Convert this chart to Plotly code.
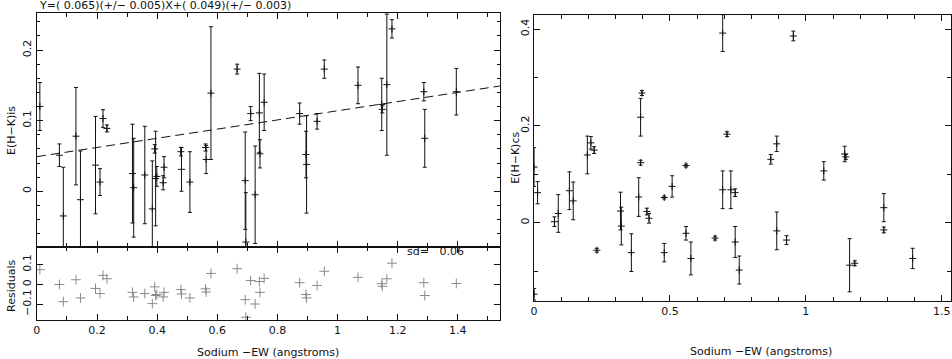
import plotly.graph_objects as go

# ---- left panel: E(H-K)is vs sodium EW, with fit residuals ----
na_ew_is = [0.010, 0.075, 0.088, 0.130, 0.145, 0.195, 0.210, 0.220, 0.233, 0.318,
            0.322, 0.359, 0.384, 0.392, 0.395, 0.399, 0.420, 0.423, 0.479, 0.481,
            0.509, 0.561, 0.563, 0.579, 0.666, 0.693, 0.695, 0.711, 0.726, 0.740,
            0.742, 0.756, 0.874, 0.895, 0.897, 0.932, 0.956, 1.068, 1.147, 1.149,
            1.164, 1.181, 1.287, 1.290, 1.395]
ehk_is = [0.120, 0.051, -0.035, 0.078, -0.012, 0.037, 0.013, 0.103, 0.089, 0.025,
          0.005, 0.023, -0.025, 0.060, 0.018, 0.021, 0.012, 0.034, 0.056, 0.031,
          0.013, 0.062, 0.045, 0.139, 0.173, 0.015, -0.072, 0.110, -0.005, 0.111,
          0.053, 0.126, 0.110, 0.052, 0.038, 0.099, 0.173, 0.150, 0.123, 0.116,
          0.151, 0.230, 0.141, 0.075, 0.141]
ehk_is_err = [0.034, 0.016, 0.069, 0.069, 0.069, 0.069, 0.019, 0.0125, 0.005, 0.070,
              0.070, 0.069, 0.068, 0.006, 0.067, 0.014, 0.010, 0.015, 0.006, 0.031,
              0.043, 0.005, 0.020, 0.094, 0.007, 0.069, 0.070, 0.010, 0.069, 0.056,
              0.020, 0.040, 0.015, 0.033, 0.069, 0.011, 0.013, 0.026, 0.037, 0.005,
              0.100, 0.013, 0.013, 0.041, 0.033]
residuals = [0.075, 0.000, -0.087, 0.024, -0.068, -0.020, -0.046, 0.046, 0.029, -0.040,
             -0.063, -0.046, -0.097, -0.012, -0.056, -0.051, -0.063, -0.040, -0.026, -0.048,
             -0.068, -0.022, -0.038, 0.056, 0.080, -0.077, -0.166, 0.020, -0.099, 0.015,
             -0.040, 0.031, 0.009, -0.051, -0.068, -0.005, 0.067, 0.036, 0.004, -0.009,
             0.029, 0.108, 0.009, -0.056, 0.005]
fit_slope = 0.065
fit_icept = 0.049
fit_x = [0, 1.54]

# ---- right panel: E(H-K)cs vs sodium EW ----
na_ew_cs = [0.000, 0.000, 0.013, 0.075, 0.089, 0.130, 0.144, 0.196, 0.209, 0.221,
            0.231, 0.318, 0.321, 0.358, 0.385, 0.392, 0.397, 0.392, 0.415, 0.423,
            0.479, 0.479, 0.508, 0.559, 0.559, 0.577, 0.666, 0.694, 0.694, 0.710,
            0.724, 0.740, 0.740, 0.755, 0.871, 0.893, 0.893, 0.929, 0.954, 1.066,
            1.143, 1.147, 1.161, 1.180, 1.287, 1.287, 1.393]
ehk_cs = [0.115, -0.148, 0.062, 0.002, 0.019, 0.066, 0.045, 0.140, 0.165, 0.150,
          -0.057, 0.024, -0.007, -0.062, 0.053, 0.218, 0.268, 0.124, 0.023, 0.009,
          0.052, -0.062, 0.075, 0.118, -0.022, -0.074, -0.032, 0.392, 0.068, 0.183,
          0.068, 0.062, -0.040, -0.098, 0.131, 0.163, -0.017, -0.036, 0.386, 0.107,
          0.142, 0.136, -0.088, -0.084, 0.031, -0.015, -0.074]
ehk_cs_err = [0.040, 0.012, 0.023, 0.010, 0.039, 0.039, 0.039, 0.039, 0.013, 0.007,
              0.004, 0.039, 0.039, 0.039, 0.040, 0.039, 0.005, 0.005, 0.007, 0.010,
              0.003, 0.019, 0.022, 0.003, 0.014, 0.034, 0.004, 0.038, 0.039, 0.005,
              0.039, 0.008, 0.032, 0.029, 0.010, 0.016, 0.039, 0.009, 0.010, 0.019,
              0.016, 0.005, 0.055, 0.005, 0.029, 0.006, 0.021]

INK = "#111111"
FONT = dict(family="DejaVu Sans", size=11, color=INK)
W, H = 952, 359

def px(x):
    return x / W

def py(y):
    return 1 - y / H

err_style = dict(type="data", color=INK, thickness=1, width=2)
pt_style = dict(symbol="cross-thin", size=5, line=dict(width=1, color=INK), color=INK)

fig = go.Figure()

fig.add_trace(go.Scatter(x=na_ew_is, y=ehk_is, mode="markers", marker=pt_style,
                         error_y=dict(array=ehk_is_err, **err_style), xaxis="x", yaxis="y"))
fig.add_trace(go.Scatter(x=fit_x, y=[fit_icept + fit_slope * v for v in fit_x], mode="lines",
                         line=dict(color=INK, width=1, dash="9px,5px"), xaxis="x", yaxis="y"))
fig.add_trace(go.Scatter(x=na_ew_is, y=residuals, mode="markers",
                         marker=dict(symbol="cross-thin", size=7, line=dict(width=1, color="#8a8a8a")),
                         xaxis="x2", yaxis="y2"))
fig.add_trace(go.Scatter(x=na_ew_cs, y=ehk_cs, mode="markers", marker=pt_style,
                         error_y=dict(array=ehk_cs_err, **err_style), xaxis="x3", yaxis="y3"))

ax = dict(showline=True, linecolor=INK, linewidth=1, mirror="allticks", ticks="inside",
          tickcolor=INK, tickwidth=1, showgrid=False, zeroline=False, tickfont=FONT)

left_dom = [px(33), px(498)]
fig.update_layout(
    width=W, height=H, autosize=False, showlegend=False,
    margin=dict(l=0, r=0, t=0, b=0),
    paper_bgcolor="white", plot_bgcolor="white", font=FONT,
    xaxis=dict(ax, domain=left_dom, anchor="y", range=[0, 1.54], dtick=0.2, ticklen=6,
               showticklabels=False, minor=dict(dtick=0.1, ticklen=4, ticks="inside", tickcolor=INK)),
    yaxis=dict(ax, domain=[py(247), py(13)], anchor="x", range=[-0.079, 0.2525], dtick=0.1,
               ticklen=6, tickangle=-90, tickvals=[0, 0.1, 0.2], ticktext=["0", "0.1", "0.2"],
               minor=dict(dtick=0.02, ticklen=3, ticks="inside", tickcolor=INK)),
    xaxis2=dict(ax, domain=left_dom, anchor="y2", range=[0, 1.54], dtick=0.2, ticklen=6,
                tickvals=[0, 0.2, 0.4, 0.6, 0.8, 1, 1.2, 1.4],
                ticktext=["0", "0.2", "0.4", "0.6", "0.8", "1", "1.2", "1.4"],
                minor=dict(dtick=0.1, ticklen=4, ticks="inside", tickcolor=INK)),
    yaxis2=dict(ax, domain=[py(320), py(247)], anchor="x2", range=[-0.18, 0.19],
                tickvals=[-0.1, 0, 0.1], ticktext=["\u22120.1", "0", "0.1"], ticklen=6,
                tickangle=-90),
    xaxis3=dict(ax, domain=[px(532.3), px(950.7)], anchor="y3", range=[0, 1.533],
                tickvals=[0, 0.5, 1, 1.5], ticktext=["0", "0.5", "1", "1.5"], ticklen=6,
                minor=dict(dtick=0.1, ticklen=4, ticks="inside", tickcolor=INK)),
    yaxis3=dict(ax, domain=[py(301), py(14.7)], anchor="x3", range=[-0.162, 0.43],
                tickvals=[0, 0.2, 0.4], ticktext=["0", "0.2", "0.4"], ticklen=6,
                tickangle=-90,
                minor=dict(dtick=0.1, ticklen=4, ticks="inside", tickcolor=INK)),
)

notes = [
    dict(text="Y=( 0.065)(+/\u2212 0.005)X+( 0.049)(+/\u2212 0.003)", x=px(33), y=py(6),
         xanchor="left", yanchor="middle"),
    dict(text="sd=   0.06", x=px(403), y=py(252), xanchor="left", yanchor="middle"),
    dict(text="E(H\u2212K)is", x=px(7), y=py(130), textangle=-90, xanchor="center", yanchor="middle"),
    dict(text="Residuals", x=px(7), y=py(286), textangle=-90, xanchor="center", yanchor="middle"),
    dict(text="Sodium \u2212EW (angstroms)", x=px(265), y=py(352), xanchor="center", yanchor="middle"),
    dict(text="E(H\u2212K)cs", x=px(513), y=py(158), textangle=-90, xanchor="center", yanchor="middle"),
    dict(text="Sodium \u2212EW (angstroms)", x=px(760), y=py(351), xanchor="center", yanchor="middle"),
]
for n in notes:
    fig.add_annotation(xref="paper", yref="paper", showarrow=False, font=FONT, **n)

# page has a default 8px body margin; drop it so the 952x359 figure fills the window
fig.write_html("out.html", config={"displayModeBar": False},
               post_script="document.body.style.margin='0';document.body.style.overflow='hidden';")
